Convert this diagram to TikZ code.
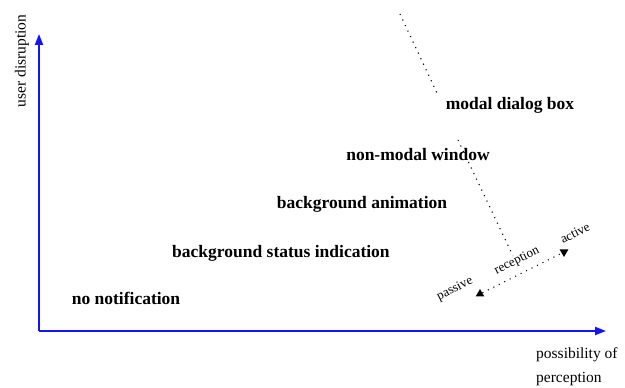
\documentclass[tikz,border=0pt]{standalone}
\usepackage{fontspec}
\setmainfont{Liberation Serif}
\usetikzlibrary{arrows.meta,positioning,shapes.geometric}
\definecolor{AxisBlue}{RGB}{20,20,250}
\tikzset{
  level/.style={font=\fontsize{17.5}{20}\selectfont\bfseries, inner sep=0pt},
  axislabel/.style={font=\fontsize{15.5}{19}\selectfont, inner sep=0pt},
  scalelabel/.style={font=\fontsize{13}{15}\selectfont, inner sep=0pt, rotate=26.6},
  sparse dots/.style={line width=1.1pt, dash pattern=on 1.1pt off 5pt},
  tipmark/.style={regular polygon, regular polygon sides=3, fill=black, inner sep=0pt, minimum size=10pt},
}
\begin{document}
\begin{tikzpicture}[x=1pt,y=1pt]
        \useasboundingbox (0,0) rectangle (625,388);
        % axes
        \coordinate (origin) at (39,57);
        \coordinate (xend) at (606,57);
        \coordinate (yend) at (39,354);
        \draw[-{Triangle[length=11pt,width=8pt]}, line width=2pt, AxisBlue] (origin)--(xend);
        \draw[-{Triangle[length=11pt,width=8pt]}, line width=2pt, AxisBlue] (origin)--(yend);
        \node[axislabel, rotate=90] (ylab) at (22,327) {user disruption};
        \node[axislabel, anchor=west] (xlab) at (536,33) {possibility of};
        \node[axislabel, anchor=west] (xlab2) at (536,9) {perception};
        % notification levels
        \node[level] (none) at (126,90) {no notification};
        \node[level] (status) at (281,135) {background status indication};
        \node[level] (anim) at (362,184) {background animation};
        \node[level] (window) at (418,233) {non-modal window};
        \node[level] (dialog) at (510,283) {modal dialog box};
        % border of disruption
        \coordinate (b1) at (400,374);
        \coordinate (b2) at (437,295);
        \coordinate (b3) at (458,248);
        \coordinate (b4) at (513,132);
        \draw[sparse dots] (b1)--(b2);
        \draw[sparse dots] (b3)--(b4);
        % reception scale
        \node[tipmark] (passiveTip) at (480,94) {};
        \node[tipmark, rotate=180] (activeTip) at (564,136) {};
        \draw[sparse dots] (passiveTip)--(activeTip);
        \node[scalelabel] (passive) at (455,99) {passive};
        \node[scalelabel] (reception) at (517,127) {reception};
        \node[scalelabel] (active) at (575,155) {active};
      \end{tikzpicture}
\end{document}
